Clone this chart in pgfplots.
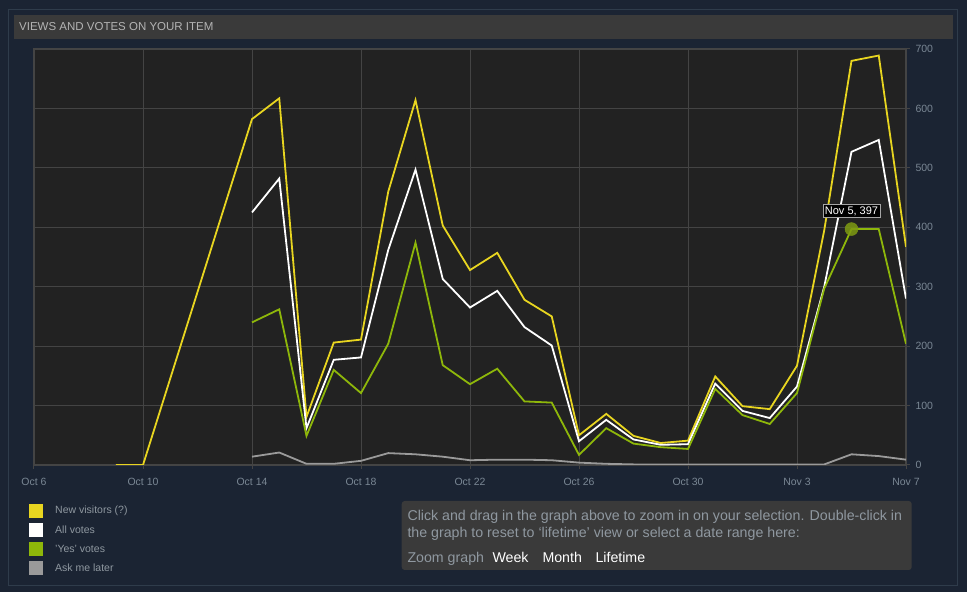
\documentclass[border=0pt]{standalone}
\usepackage{fontspec}
\setmainfont{Liberation Sans}
\usepackage{pgfplots}
\pgfplotsset{compat=1.18}
\definecolor{pagebg}{HTML}{1B2433}
\definecolor{panelborder}{HTML}{2F3C4B}
\definecolor{headerbg}{HTML}{3A3A3A}
\definecolor{headertext}{HTML}{B4B4B4}
\definecolor{plotbg}{HTML}{222222}
\definecolor{gridc}{HTML}{444444}
\definecolor{ticklab}{HTML}{7A8794}
\definecolor{legtext}{HTML}{8F98A0}
\definecolor{cyellow}{HTML}{E8D520}
\definecolor{cgreen}{HTML}{8EB70A}
\definecolor{cgray}{HTML}{9A9A9A}
\definecolor{dotgreen}{HTML}{7E9A12}
\begin{document}
\begin{tikzpicture}[x=1pt,y=1pt]
\fill[pagebg] (0,0) rectangle (967,592);
\useasboundingbox (0,0) rectangle (967,592);
\draw[panelborder, line width=1pt] (8.5,6.5) rectangle (957.5,582.5);
\fill[headerbg] (14,553) rectangle (953,577);
\node[anchor=base west, text=headertext, font=\fontsize{11.5}{13}\selectfont, inner sep=0] at (19,561.3) {VIEWS AND VOTES ON YOUR ITEM};

\begin{axis}[
  at={(34pt,127pt)}, anchor=south west,
  scale only axis, width=872pt, height=416pt,
  xmin=0, xmax=32, ymin=0, ymax=700,
  axis background/.style={fill=plotbg},
  axis line style={draw=gridc, line width=1.2pt},
  grid=major, major grid style={draw=gridc, line width=0.9pt},
  xtick={0,4,...,32},
  xticklabels={Oct 6, Oct 10, Oct 14, Oct 18, Oct 22, Oct 26, Oct 30, Nov 3, Nov 7},
  ytick={0,100,...,700},
  xtick pos=left, ytick pos=right, yticklabel pos=right,
  tick align=outside, major tick length=4pt,
  tick style={draw=gridc, line width=1pt},
  ticklabel style={font=\fontsize{10.5}{12}\selectfont, text=ticklab},
  xticklabel style={yshift=-6pt},
  yticklabel style={xshift=2pt},
  /pgf/number format/assume math mode=true,
]
% New visitors
\addplot[cyellow, line width=1.8pt] coordinates {
(3,0) (4,0) (8,582) (9,617) (10,81) (11,206) (12,211) (13,460) (14,614) (15,403) (16,328)
(17,357) (18,278) (19,250) (20,50) (21,86) (22,49) (23,37) (24,41) (25,149) (26,99) (27,94)
(28,167) (29,395) (30,680) (31,689) (32,367)};
% All votes
\addplot[white, line width=1.8pt] coordinates {
(8,425) (9,482) (10,62) (11,177) (12,181) (13,362) (14,497) (15,313) (16,265)
(17,293) (18,232) (19,201) (20,40) (21,76) (22,43) (23,34) (24,35) (25,137) (26,91) (27,79)
(28,132) (29,300) (30,527) (31,547) (32,280)};
% Yes votes
\addplot[cgreen, line width=1.8pt] coordinates {
(8,240) (9,262) (10,49) (11,160) (12,121) (13,204) (14,374) (15,168) (16,136)
(17,162) (18,107) (19,105) (20,17) (21,62) (22,36) (23,30) (24,27) (25,128) (26,84) (27,69)
(28,121) (29,297) (30,397) (31,397) (32,204)};
% Ask me later
\addplot[cgray, line width=1.8pt] coordinates {
(8,14) (9,21) (10,2) (11,2) (12,7) (13,20) (14,18) (15,14) (16,8)
(17,9) (18,9) (19,8) (20,4) (21,2) (22,1) (23,1) (24,1) (25,1) (26,1) (27,1)
(28,1) (29,1) (30,18) (31,15) (32,9)};
% highlighted point
\addplot[only marks, mark=*, mark size=6.5pt, color=dotgreen, fill opacity=0.85, draw opacity=0.85] coordinates {(30,397)};
\node[fill=black, draw=gray!70, line width=0.6pt, text=white, font=\fontsize{11}{12}\selectfont, inner xsep=2pt, inner ysep=2pt] at (axis cs:30,397) [yshift=18pt] {Nov 5, 397};
\end{axis}

% legend
\fill[cyellow] (29,74) rectangle (43,88);
\fill[white] (29,55) rectangle (43,69);
\fill[cgreen] (29,36) rectangle (43,50);
\fill[cgray] (29,17) rectangle (43,31);
\begin{scope}[every node/.style={anchor=west, text=legtext, font=\fontsize{10.5}{12}\selectfont, inner sep=0}]
\node at (55,81) {New visitors (?)};
\node at (55,62) {All votes};
\node at (55,43) {'Yes' votes};
\node at (55,24) {Ask me later};
\end{scope}

% info box
\fill[headerbg, rounded corners=3pt] (401.7,22) rectangle (911.7,91);
\begin{scope}[every node/.style={anchor=base west, inner sep=0, font=\fontsize{14.2}{16}\selectfont}]
\node[text=legtext] at (407.3,71.3) {Click and drag in the graph above to zoom in on your selection. Double-click in};
\node[text=legtext] at (407.3,54.3) {the graph to reset to ‘lifetime’ view or select a date range here:};
\node[text=legtext] at (407.3,29.3) {Zoom graph};
\node[text=white] at (492.3,29.3) {Week};
\node[text=white] at (542.3,29.3) {Month};
\node[text=white] at (595.3,29.3) {Lifetime};
\end{scope}
\end{tikzpicture}
\end{document}
